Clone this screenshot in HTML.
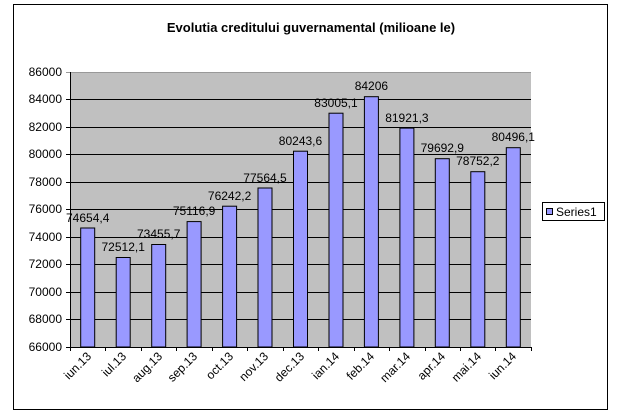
<!DOCTYPE html><html><head><style>body{margin:0;background:#fff}</style></head><body>
<svg width="622" height="415" xmlns="http://www.w3.org/2000/svg" font-family="Liberation Sans, Arial, sans-serif">
<rect x="0" y="0" width="622" height="415" fill="#fff"/>
<rect x="13.5" y="4.5" width="594" height="405" fill="#fff" stroke="#000"/>
<text x="311" y="32" text-anchor="middle" font-size="13" font-weight="bold">Evolutia creditului guvernamental (milioane le)</text>
<rect x="70" y="72" width="461" height="275" fill="#c0c0c0"/>
<g stroke="#000">
<line x1="66" x2="531" y1="72.5" y2="72.5" stroke="#999"/>
<line x1="66" x2="531" y1="99.5" y2="99.5"/>
<line x1="66" x2="531" y1="127.5" y2="127.5"/>
<line x1="66" x2="531" y1="154.5" y2="154.5"/>
<line x1="66" x2="531" y1="182.5" y2="182.5"/>
<line x1="66" x2="531" y1="209.5" y2="209.5"/>
<line x1="66" x2="531" y1="237.5" y2="237.5"/>
<line x1="66" x2="531" y1="264.5" y2="264.5"/>
<line x1="66" x2="531" y1="292.5" y2="292.5"/>
<line x1="66" x2="531" y1="319.5" y2="319.5"/>
<line x1="66" x2="531" y1="347.5" y2="347.5"/>
<line x1="70.5" x2="70.5" y1="72" y2="351"/>
<line x1="105.5" x2="105.5" y1="347" y2="351"/>
<line x1="141.5" x2="141.5" y1="347" y2="351"/>
<line x1="176.5" x2="176.5" y1="347" y2="351"/>
<line x1="212.5" x2="212.5" y1="347" y2="351"/>
<line x1="247.5" x2="247.5" y1="347" y2="351"/>
<line x1="283.5" x2="283.5" y1="347" y2="351"/>
<line x1="318.5" x2="318.5" y1="347" y2="351"/>
<line x1="354.5" x2="354.5" y1="347" y2="351"/>
<line x1="389.5" x2="389.5" y1="347" y2="351"/>
<line x1="425.5" x2="425.5" y1="347" y2="351"/>
<line x1="460.5" x2="460.5" y1="347" y2="351"/>
<line x1="495.5" x2="495.5" y1="347" y2="351"/>
<line x1="531.5" x2="531.5" y1="347" y2="351"/>
<g fill="#9999ff">
<rect x="80.7" y="228" width="14" height="119"/>
<rect x="116.2" y="257.5" width="14" height="89.5"/>
<rect x="151.7" y="244.5" width="14" height="102.5"/>
<rect x="187.1" y="221.6" width="14" height="125.4"/>
<rect x="222.6" y="206.2" width="14" height="140.8"/>
<rect x="258" y="188" width="14" height="159"/>
<rect x="293.5" y="151.2" width="14" height="195.8"/>
<rect x="329" y="113.2" width="14" height="233.8"/>
<rect x="364.4" y="96.7" width="14" height="250.3"/>
<rect x="399.9" y="128.1" width="14" height="218.9"/>
<rect x="435.3" y="158.7" width="14" height="188.3"/>
<rect x="470.8" y="171.7" width="14" height="175.3"/>
<rect x="506.3" y="147.7" width="14" height="199.3"/>
</g>
</g>
<g font-size="12" text-anchor="end">
<text x="62" y="76">86000</text><text x="62" y="103">84000</text><text x="62" y="131">82000</text><text x="62" y="158">80000</text><text x="62" y="186">78000</text><text x="62" y="213">76000</text><text x="62" y="241">74000</text><text x="62" y="268">72000</text><text x="62" y="296">70000</text><text x="62" y="323">68000</text><text x="62" y="351">66000</text>
</g>
<g font-size="12" text-anchor="middle">
<text x="87.7" y="222">74654,4</text>
<text x="123.2" y="251">72512,1</text>
<text x="158.7" y="238">73455,7</text>
<text x="194.1" y="215">75116,9</text>
<text x="229.6" y="200">76242,2</text>
<text x="265" y="182">77564,5</text>
<text x="300.5" y="145">80243,6</text>
<text x="336" y="107">83005,1</text>
<text x="371.4" y="90">84206</text>
<text x="406.9" y="122">81921,3</text>
<text x="442.3" y="152">79692,9</text>
<text x="477.8" y="165">78752,2</text>
<text x="513.3" y="141">80496,1</text>
</g>
<g font-size="12" text-anchor="end">
<text transform="translate(92,357) rotate(-45)">iun.13</text>
<text transform="translate(127,357) rotate(-45)">iul.13</text>
<text transform="translate(163,357) rotate(-45)">aug.13</text>
<text transform="translate(198,357) rotate(-45)">sep.13</text>
<text transform="translate(234,357) rotate(-45)">oct.13</text>
<text transform="translate(269,357) rotate(-45)">nov.13</text>
<text transform="translate(305,357) rotate(-45)">dec.13</text>
<text transform="translate(340,357) rotate(-45)">ian.14</text>
<text transform="translate(375,357) rotate(-45)">feb.14</text>
<text transform="translate(411,357) rotate(-45)">mar.14</text>
<text transform="translate(446,357) rotate(-45)">apr.14</text>
<text transform="translate(482,357) rotate(-45)">mai.14</text>
<text transform="translate(517,357) rotate(-45)">iun.14</text>
</g>
<g stroke="#000">
<rect x="542.5" y="202.5" width="62" height="18" fill="#fff"/>
<rect x="546.5" y="208.5" width="6" height="6" fill="#9999ff"/>
</g>
<text x="556" y="216" font-size="12">Series1</text>
</svg>
</body></html>
